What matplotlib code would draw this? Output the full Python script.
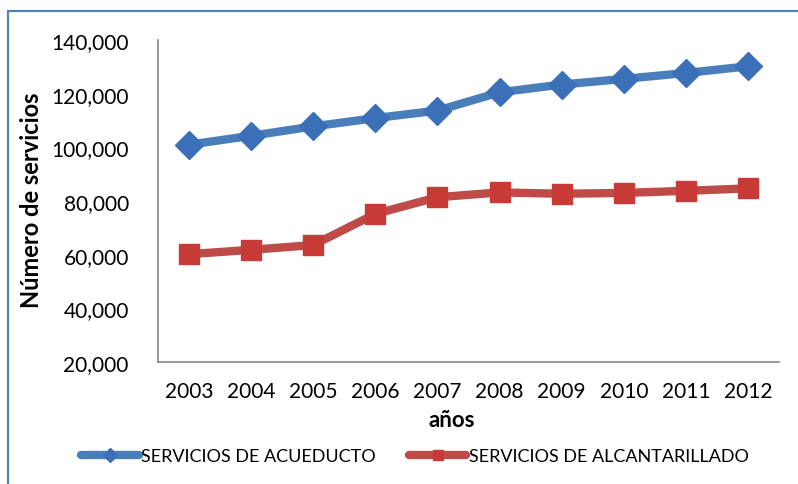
import matplotlib.pyplot as plt
from matplotlib.patches import Rectangle
from matplotlib.ticker import FuncFormatter

# Data
years = ["2003", "2004", "2005", "2006", "2007", "2008", "2009", "2010", "2011", "2012"]
acueducto = [101000, 104300, 107800, 110900, 113700, 120500, 123400, 125500, 127700, 130200]
alcantarillado = [60200, 61800, 63600, 75200, 81400, 83200, 82700, 83000, 83800, 84700]

plt.rcParams['font.family'] = ['Lato', 'DejaVu Sans']

fig = plt.figure(figsize=(7.98, 4.85), dpi=100)
ax = fig.add_axes([158/798, 1 - 363/485, (779 - 158)/798, (363 - 41)/485])

# Outer chart frame (cut off at right and bottom)
fig.patches.append(Rectangle((8/798, -0.1), 1.2, 1 - 12/485 + 0.1, transform=fig.transFigure,
                             fill=False, edgecolor='#4F81BD', linewidth=1.6))

x = range(len(years))
ax.plot(x, acueducto, color='#4A7EBB', linewidth=6, marker='D', markersize=14,
        markerfacecolor='#3A70B8', markeredgecolor='#3A70B8', solid_capstyle='round',
        label='SERVICIOS DE ACUEDUCTO')
ax.plot(x, alcantarillado, color='#BE4B48', linewidth=6, marker='s', markersize=14,
        markerfacecolor='#C83A36', markeredgecolor='#C83A36', solid_capstyle='round',
        label='SERVICIOS DE ALCANTARILLADO')

ax.set_xlim(-0.5, len(years) - 0.5)
ax.set_ylim(20000, 140000)
ax.set_yticks(range(20000, 140001, 20000))
ax.yaxis.set_major_formatter(FuncFormatter(lambda v, p: f"{int(v):,}"))
ax.set_xticks(list(x))
ax.set_xticklabels(years)
ax.tick_params(axis='both', length=0, labelsize=15, colors='black')
ax.tick_params(axis='y', pad=21)
ax.tick_params(axis='x', pad=14)

for side in ['top', 'right']:
    ax.spines[side].set_visible(False)
for side in ['left', 'bottom']:
    ax.spines[side].set_color('#868686')
    ax.spines[side].set_linewidth(1.2)

ax.set_xlabel("años", fontsize=16, fontweight='bold')
ax.xaxis.set_label_coords(0.473, -0.147)
ax.set_ylabel("Número de servicios", fontsize=17, fontweight='bold')
ax.yaxis.set_label_coords(-0.185, 0.506)

leg = ax.legend(loc='center', bbox_to_anchor=(0.414, -0.292), ncol=2, frameon=False,
                fontsize=13, handlelength=3.2, handletextpad=0.15, columnspacing=1.8,
                markerscale=0.5)

fig.savefig("out.png", dpi=100)
